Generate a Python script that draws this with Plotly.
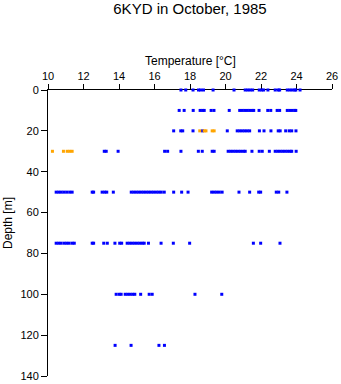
import plotly.graph_objects as go

# Temperatures (deg C) observed at each depth (m)
depths = [0, 10, 20, 30, 50, 75, 100, 125]

blue_temps = {
    0: [17.49, 17.76, 18.17, 18.48, 18.60, 18.76, 19.30, 20.48, 21.11, 21.25, 21.39, 21.53,
        21.90, 22.04, 22.15, 22.39, 22.80, 22.97, 23.05, 23.48, 23.62, 23.76, 23.90, 23.96, 24.20],
    10: [17.39, 17.67, 18.18, 18.57, 18.71, 18.80, 19.19, 19.35, 20.21, 20.80, 20.94, 21.08,
         21.22, 21.36, 21.50, 21.59, 21.89, 22.38, 22.55, 22.91, 23.05, 23.48, 23.62, 23.76, 23.90, 23.96],
    20: [17.08, 17.48, 17.59, 18.17, 18.70, 20.10, 20.66, 20.80, 20.94, 21.08, 21.22, 21.36,
         21.91, 22.17, 22.56, 22.97, 23.08, 23.39, 23.59, 23.73, 23.97],
    30: [13.17, 13.28, 13.95, 16.57, 16.74, 17.49, 18.47, 18.69, 19.25, 19.36, 20.15, 20.29,
         20.43, 20.57, 20.71, 20.85, 21.00, 21.11, 21.49, 21.90, 22.07, 22.47, 22.80, 22.94,
         23.08, 23.22, 23.36, 23.50, 23.64, 23.73, 23.98],
    50: [10.46, 10.60, 10.74, 10.89, 11.05, 11.22, 11.36, 12.49, 12.57, 13.05, 13.19, 13.31,
         13.68, 14.69, 14.83, 14.97, 15.11, 15.25, 15.39, 15.53, 15.67, 15.81, 15.95, 16.10,
         16.24, 16.38, 16.55, 17.08, 17.53, 17.89, 19.22, 19.36, 19.50, 19.65, 19.81, 20.76,
         21.36, 21.87, 21.98, 22.86, 23.00, 23.46],
    75: [10.46, 10.60, 10.74, 10.91, 11.05, 11.19, 11.36, 11.48, 12.49, 12.57, 13.14, 13.34,
         13.77, 14.04, 14.15, 14.46, 14.60, 14.74, 14.88, 15.03, 15.17, 15.31, 15.42, 15.66,
         16.37, 17.06, 17.98, 21.57, 21.98, 23.07],
    100: [13.84, 14.01, 14.12, 14.35, 14.49, 14.63, 14.77, 14.89, 15.22, 15.70, 15.87, 18.28, 19.79],
    125: [13.78, 14.68, 16.25, 16.56],
}

orange_temps = {
    20: [18.55, 18.80, 18.90, 19.25, 19.36],
    30: [10.25, 10.87, 11.08, 11.22, 11.36],
}

x_ticks = [10, 12, 14, 16, 18, 20, 22, 24, 26]
y_ticks = [0, 20, 40, 60, 80, 100, 120, 140]

BLUE = "#0000FF"
ORANGE = "#FFA500"
FONT = "Liberation Sans, Arial, sans-serif"


def flatten(d):
    xs, ys = [], []
    for dep in depths:
        for t in d.get(dep, []):
            xs.append(t)
            ys.append(dep)
    return xs, ys


bx, by = flatten(blue_temps)
ox, oy = flatten(orange_temps)

fig = go.Figure()
fig.add_trace(go.Scatter(x=bx, y=by, mode="markers", cliponaxis=False,
                         marker=dict(symbol="square", size=3, color=BLUE, line=dict(width=0)),
                         showlegend=False, hoverinfo="x+y"))
fig.add_trace(go.Scatter(x=ox, y=oy, mode="markers", cliponaxis=False,
                         marker=dict(symbol="square", size=3, color=ORANGE, line=dict(width=0)),
                         showlegend=False, hoverinfo="x+y"))

fig.update_layout(
    width=341, height=384,
    margin=dict(l=48, r=9, t=90, b=8, autoexpand=False),
    paper_bgcolor="white", plot_bgcolor="white",
    font=dict(family=FONT, color="black", size=11),
    title=dict(text="6KYD in October, 1985", x=0.5, xref="paper", xanchor="center",
               y=1 - 9 / 384, yref="container", yanchor="middle",
               font=dict(size=15, family=FONT, color="black")),
    xaxis=dict(side="top", range=[10, 26], tickvals=x_ticks, ticktext=[str(v) for v in x_ticks],
               showgrid=False, zeroline=False, showline=True, linecolor="black", linewidth=1,
               ticks="outside", ticklen=5, tickwidth=1, tickcolor="black",
               tickfont=dict(size=11), layer="below traces", automargin=False),
    yaxis=dict(range=[140, 0], tickvals=y_ticks, ticktext=[str(v) for v in y_ticks],
               showgrid=False, zeroline=False, showline=True, linecolor="black", linewidth=1,
               ticks="outside", ticklen=6, tickwidth=1, tickcolor="black",
               tickfont=dict(size=11), layer="below traces", automargin=False),
    annotations=[
        dict(text="Temperature [°C]", xref="paper", yref="paper", x=0.5, y=(376 - 61) / 286,
             xanchor="center", yanchor="middle", showarrow=False, font=dict(size=12)),
        dict(text="Depth [m]", xref="paper", yref="paper", x=(8 - 48) / 284, y=(376 - 223) / 286,
             xanchor="center", yanchor="middle", textangle=-90, showarrow=False, font=dict(size=12)),
    ],
)

fig.write_html("out.html")
